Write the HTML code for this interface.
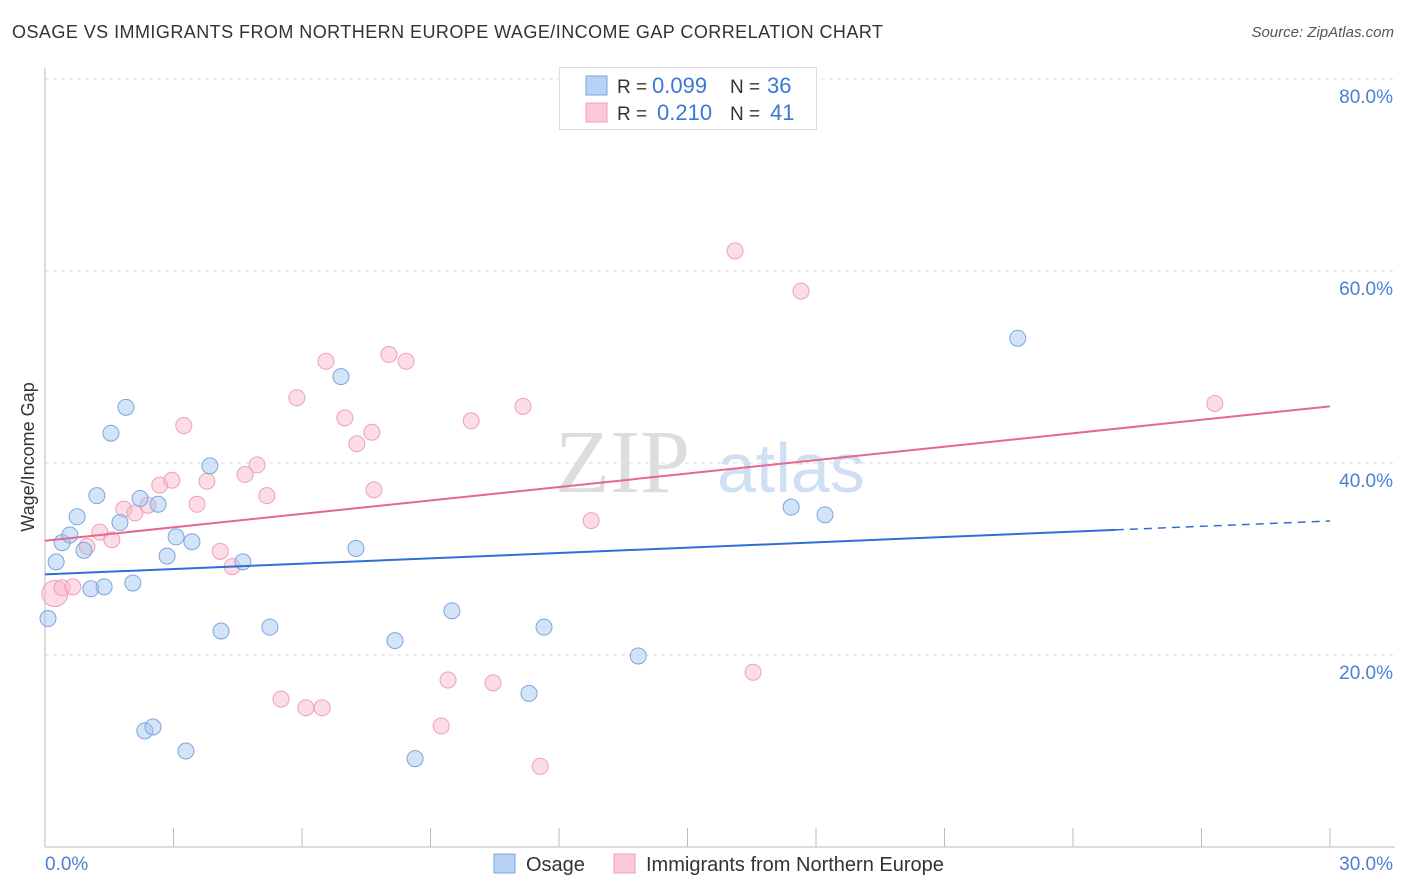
<!DOCTYPE html>
<html><head><meta charset="utf-8"><style>
body{margin:0;background:#fff;font-family:"Liberation Sans",sans-serif;}
#wrap{position:relative;width:1406px;height:892px;overflow:hidden;}
.t{position:absolute;white-space:nowrap;}
</style></head><body>
<div id="wrap">
<div class="t" style="left:12px;top:22px;font-size:18px;letter-spacing:0.45px;color:#333;">OSAGE VS IMMIGRANTS FROM NORTHERN EUROPE WAGE/INCOME GAP CORRELATION CHART</div>
<div class="t" style="right:12px;top:24px;font-size:15px;color:#555;font-style:italic;">Source: ZipAtlas.com</div>
<svg id="svg" width="1406" height="892" style="position:absolute;left:0;top:0;"></svg>
</div>
<script>
const blueX=[0.07,0.26,0.40,0.58,0.75,0.91,1.07,1.21,1.38,1.54,1.75,1.89,2.05,2.22,2.33,2.52,2.64,2.85,3.06,3.29,3.43,3.85,4.11,4.62,5.25,6.91,7.26,8.17,8.64,9.50,11.30,11.65,13.85,17.42,18.21,22.71];
const blueY=[23.8,29.7,31.7,32.5,34.4,30.9,26.9,36.6,27.1,43.1,33.8,45.8,27.5,36.3,12.1,12.5,35.7,30.3,32.3,10.0,31.8,39.7,22.5,29.7,22.9,49.0,31.1,21.5,9.2,24.6,16.0,22.9,19.9,35.4,34.6,53.0];
const pinkX=[0.23,0.40,0.65,0.98,1.28,1.56,1.84,2.10,2.40,2.68,2.96,3.24,3.55,3.78,4.09,4.37,4.67,4.95,5.18,5.51,5.88,6.09,6.47,6.56,7.00,7.28,7.63,7.68,8.03,8.43,9.25,9.41,9.95,10.46,11.16,11.56,12.75,16.11,16.53,17.65,27.31];
const pinkY=[26.4,27.0,27.1,31.3,32.8,32.0,35.2,34.8,35.6,37.7,38.2,43.9,35.7,38.1,30.8,29.2,38.8,39.8,36.6,15.4,46.8,14.5,14.5,50.6,44.7,42.0,43.2,37.2,51.3,50.6,12.6,17.4,44.4,17.1,45.9,8.4,34.0,62.1,18.2,57.9,46.2];
const yTicks=[20,40,60,80];
const xTickVals=[0,3,6,9,12,15,18,21,24,27,30];
const blueTrend=[28.4,33.96];
const pinkTrend=[31.9,45.9];
const X=v=>45+v*(1285/30), Y=v=>847-v*9.6;
const svg=document.getElementById('svg');const NS='http://www.w3.org/2000/svg';
function mk(tag,attrs,name,txt){const e=document.createElementNS(NS,tag);for(const k in attrs)e.setAttribute(k,attrs[k]);


if(txt!==undefined)e.textContent=txt;svg.appendChild(e);return e;}
mk('text',{x:555,y:492,'font-size':90,fill:'#ddd','font-family':'Liberation Serif'},'watermark-zip','ZIP');
mk('text',{x:717,y:492,'font-size':70,fill:'#cfe0f3','font-family':'Liberation Sans'},'watermark-atlas','atlas');
yTicks.forEach(v=>{mk('line',{x1:45,x2:1395,y1:Y(v),y2:Y(v),stroke:'#ddd','stroke-dasharray':'4,4'},'gridline-'+v);
mk('text',{x:1393,y:Y(v)+24,'font-size':19,fill:'#4a7fd4','text-anchor':'end'},'y-tick-'+v,v.toFixed(1)+'%');});
mk('line',{x1:45,x2:45,y1:68,y2:847,stroke:'#bbb'},'y-axis');
mk('line',{x1:45,x2:1395,y1:847,y2:847,stroke:'#bbb'},'x-axis');
xTickVals.forEach(v=>mk('line',{x1:X(v),x2:X(v),y1:828,y2:847,stroke:'#bbb'},'x-tick'));
mk('text',{x:45,y:870,'font-size':19,fill:'#4a7fd4'},'x-tick-label-min','0.0%');
mk('text',{x:1393,y:870,'font-size':19,fill:'#4a7fd4','text-anchor':'end'},'x-tick-label-max','30.0%');
mk('text',{x:34,y:457,'font-size':18,fill:'#333','text-anchor':'middle',transform:'rotate(-90 34 457)'},'y-axis-title','Wage/Income Gap');
pinkX.forEach((x,i)=>mk('circle',{cx:X(x),cy:Y(pinkY[i]),r:i==0?13:8,fill:'rgba(248,180,200,0.45)',stroke:'#eea0b8','stroke-width':1},'pink-point'));
blueX.forEach((x,i)=>mk('circle',{cx:X(x),cy:Y(blueY[i]),r:8,fill:'rgba(160,195,240,0.45)',stroke:'#7aa6de','stroke-width':1},'blue-point'));
const bAt=x=>blueTrend[0]+(blueTrend[1]-blueTrend[0])*x/30;
mk('line',{x1:X(0),y1:Y(bAt(0)),x2:X(25),y2:Y(bAt(25)),stroke:'#2f6fd4','stroke-width':2},'blue-trend-line');
mk('line',{x1:X(25),y1:Y(bAt(25)),x2:X(30),y2:Y(bAt(30)),stroke:'#2f6fd4','stroke-width':1.5,'stroke-dasharray':'8,6'},'blue-trend-extension');
mk('line',{x1:X(0),y1:Y(pinkTrend[0]),x2:X(30),y2:Y(pinkTrend[1]),stroke:'#e5688f','stroke-width':2},'pink-trend-line');
mk('rect',{x:559.5,y:67.5,width:257,height:62,fill:'#fff',stroke:'#ddd'},'legend-box');
mk('rect',{x:586,y:76,width:21,height:19,fill:'#b7d2f4',stroke:'#7aa6de'},'legend-swatch-osage');
mk('rect',{x:586,y:103,width:21,height:19,fill:'#fbc9d7',stroke:'#eea0b8'},'legend-swatch-immigrants');
mk('text',{x:617,y:93,'font-size':19,fill:'#333'},'legend-r-label','R =');
mk('text',{x:652,y:93,'font-size':22,fill:'#3a78d6'},'legend-r-osage','0.099');
mk('text',{x:730,y:93,'font-size':19,fill:'#333'},'legend-n-label','N =');
mk('text',{x:767,y:93,'font-size':22,fill:'#3a78d6'},'legend-n-osage','36');
mk('text',{x:617,y:120,'font-size':19,fill:'#333'},'legend-r-label','R =');
mk('text',{x:657,y:120,'font-size':22,fill:'#3a78d6'},'legend-r-immigrants','0.210');
mk('text',{x:730,y:120,'font-size':19,fill:'#333'},'legend-n-label','N =');
mk('text',{x:770,y:120,'font-size':22,fill:'#3a78d6'},'legend-n-immigrants','41');
mk('rect',{x:494,y:854,width:21,height:19,fill:'#b7d2f4',stroke:'#7aa6de'},'bottom-legend-swatch-osage');
mk('text',{x:526,y:871,'font-size':20,fill:'#333'},'bottom-legend-osage','Osage');
mk('rect',{x:614,y:854,width:21,height:19,fill:'#fbc9d7',stroke:'#eea0b8'},'bottom-legend-swatch-immigrants');
mk('text',{x:646,y:871,'font-size':20,fill:'#333'},'bottom-legend-immigrants','Immigrants from Northern Europe');
</script>
</body></html>
